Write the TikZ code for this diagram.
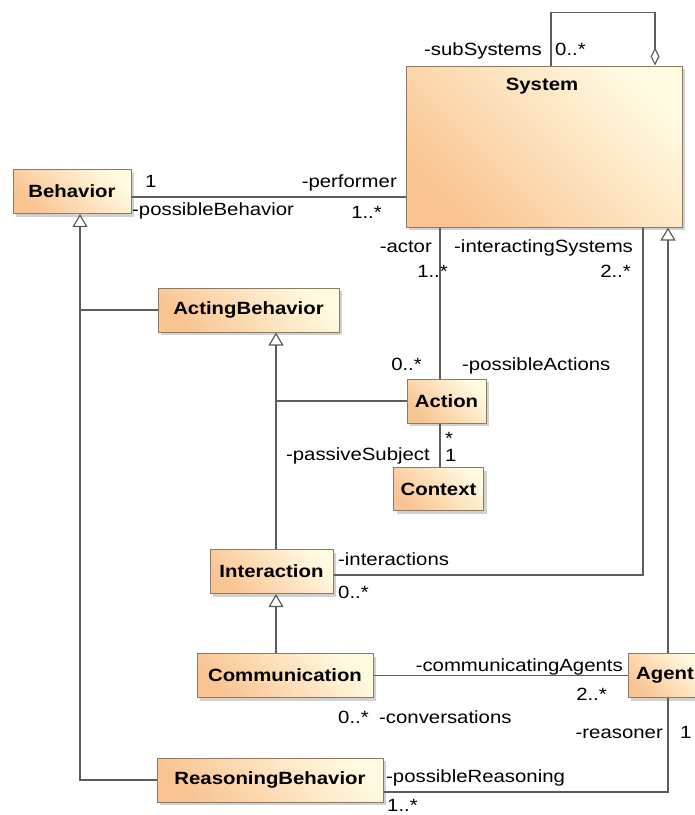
\documentclass[tikz,border=0pt]{standalone}
\usepackage{fontspec}
\setsansfont{Liberation Sans}[FakeStretch=1.15]
\usetikzlibrary{arrows.meta,shadows}
\definecolor{BoxLight}{RGB}{255,250,224}
\definecolor{BoxDark}{RGB}{250,196,146}
\definecolor{BoxBorder}{RGB}{140,122,100}
\definecolor{LineClr}{RGB}{92,92,92}

\tikzset{
  cls/.style={draw=BoxBorder, line width=1pt, top color=BoxLight, bottom color=BoxDark,
    shading angle=-45, minimum height=44pt, inner sep=0pt,
    font=\sffamily\bfseries\fontsize{17.7}{20}\selectfont,
    drop shadow={shadow xshift=3pt, shadow yshift=-3pt, fill=black!30, opacity=.6}},
  clsname/.style={inner sep=0pt, font=\sffamily\bfseries\fontsize{17.7}{20}\selectfont},
  role/.style={inner sep=0pt, font=\sffamily\fontsize{17.7}{20}\selectfont},
  rel/.style={draw=LineClr, line width=1.2pt},
  gen/.style={rel, -{Triangle[open, length=13pt, width=15pt]}},
  agg/.style={rel, -{Diamond[open, length=18pt, width=9pt]}}
}

\begin{document}
\begin{tikzpicture}[x=1pt, y=-1pt]
\clip (0,0) rectangle (695,815);

\node[cls, minimum width=276pt, minimum height=161pt] (System) at (544,146.5) {};
\node[clsname, anchor=base] (SystemName) at (542,90) {System};
\node[cls, minimum width=118pt] (Behavior) at (72,191.5) {Behavior};
\node[cls, minimum width=181pt] (Acting) at (248.5,310) {ActingBehavior};
\node[cls, minimum width=79pt] (Action) at (446.5,401) {Action};
\node[cls, minimum width=90pt, minimum height=43pt] (Context) at (438.5,489) {Context};
\node[cls, minimum width=123pt] (Interaction) at (271.5,571.5) {Interaction};
\node[cls, minimum width=176pt] (Communication) at (285,675.5) {Communication};
\node[cls, minimum width=74pt] (Agent) at (665,675.5) {Agent};
\node[cls, minimum width=226pt] (Reasoning) at (270,780) {ReasoningBehavior};

\coordinate (trunkB) at ([xshift=8pt]Behavior.south);
\coordinate (trunkA) at ([xshift=27.5pt]Acting.south);
\coordinate (trunkS) at ([xshift=124pt]System.south);
\coordinate (actorPt) at ([xshift=-104pt]System.south);
\coordinate (intSysPt) at ([xshift=99pt]System.south);
\coordinate (subIn) at ([xshift=7pt]System.north);
\coordinate (subOut) at ([xshift=111pt]System.north);
\coordinate (perfPt) at ([yshift=-5.5pt]Behavior.east);
\coordinate (interPt) at ([yshift=-3.5pt]Interaction.east);
\coordinate (reasPt) at ([yshift=-12pt]Reasoning.east);

\draw[agg] (subIn) -- ++(0,-53) -| (subOut);
\draw[rel] (perfPt) -- (perfPt -| System.west);
\draw[gen] (Reasoning.west) -| (trunkB);
\draw[rel] (Acting.west) -- (Acting.west -| trunkB);
\draw[gen] (Interaction.north -| trunkA) -- (trunkA);
\draw[rel] (Action.west) -- (Action.west -| trunkA);
\draw[rel] (Action.north -| actorPt) -- (actorPt);
\draw[rel] (Action.south -| actorPt) -- (Context.north -| actorPt);
\draw[rel] (interPt) -| (intSysPt);
\draw[gen] (Agent.north -| trunkS) -- (trunkS);
\draw[gen] (Communication.north -| trunkA) -- (Interaction.south -| trunkA);
\draw[rel] (Communication.east) -- (Agent.west);
\draw[rel] (Agent.south -| trunkS) |- (reasPt);

\node[role, anchor=base east] (subSysRole) at (542,55) {-subSystems};
\node[role, anchor=base west] (subSysMult) at (555,55) {0..*};
\node[role, anchor=base west] (behMult) at (145,187) {1};
\node[role, anchor=base east] (perfRole) at (397,187) {-performer};
\node[role, anchor=base west] (posBehRole) at (132,215) {-possibleBehavior};
\node[role, anchor=base east] (perfMult) at (382,218) {1..*};
\node[role, anchor=base east] (actorRole) at (432,252) {-actor};
\node[role, anchor=base east] (actorMult) at (448,277) {1..*};
\node[role, anchor=base west] (intSysRole) at (454,252) {-interactingSystems};
\node[role, anchor=base east] (intSysMult) at (631,277) {2..*};
\node[role, anchor=base east] (actMult) at (422,370) {0..*};
\node[role, anchor=base west] (posActRole) at (462,370) {-possibleActions};
\node[role, anchor=base west] (ctxStar) at (445,444) {*};
\node[role, anchor=base west] (ctxOne) at (445,461) {1};
\node[role, anchor=base east] (passRole) at (430,460) {-passiveSubject};
\node[role, anchor=base west] (interRole) at (338,565) {-interactions};
\node[role, anchor=base west] (interMult) at (338,598) {0..*};
\node[role, anchor=base east] (commAgRole) at (623,671) {-communicatingAgents};
\node[role, anchor=base east] (commAgMult) at (607,700) {2..*};
\node[role, anchor=base east] (convMult) at (369,723) {0..*};
\node[role, anchor=base west] (convRole) at (379,723) {-conversations};
\node[role, anchor=base east] (reasRole) at (663,738) {-reasoner};
\node[role, anchor=base west] (reasMult) at (680,738) {1};
\node[role, anchor=base west] (posReasRole) at (386,782) {-possibleReasoning};
\node[role, anchor=base west] (posReasMult) at (387,811) {1..*};
\end{tikzpicture}
\end{document}
